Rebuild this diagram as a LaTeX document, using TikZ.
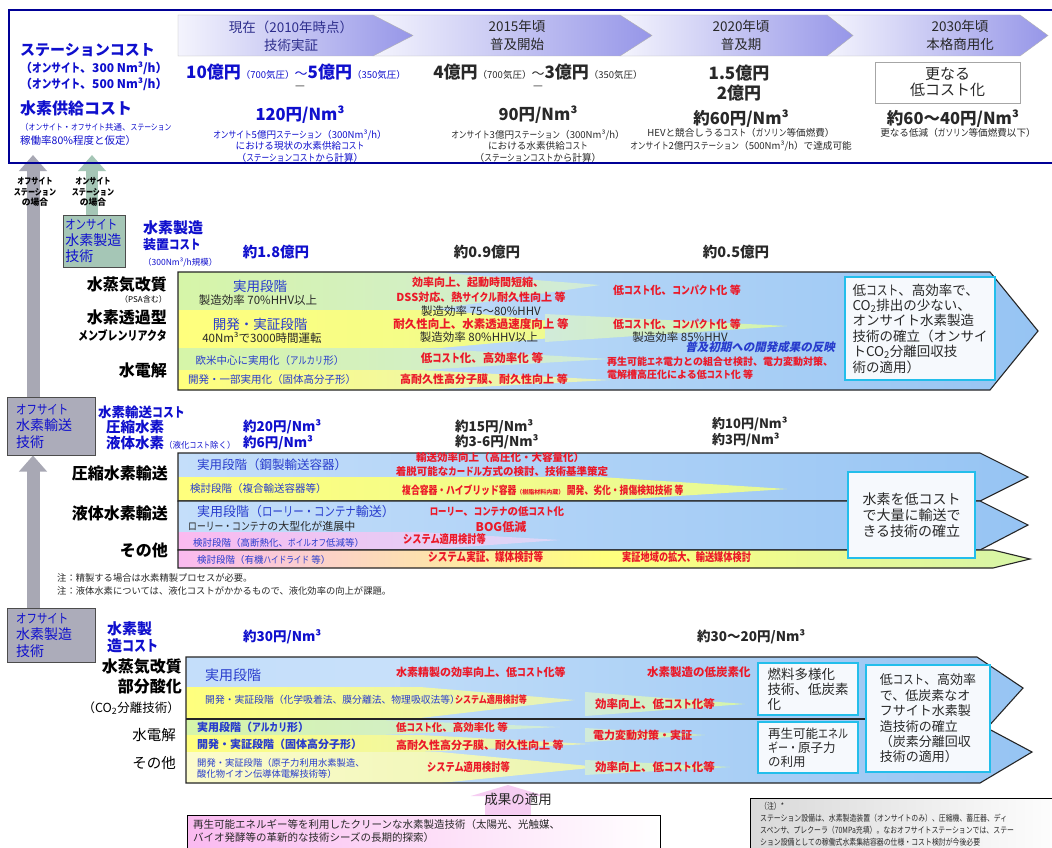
\documentclass[tikz,border=0pt]{standalone}
\usepackage{fontspec}
\setmainfont{Noto Sans CJK JP}
\newfontfamily\narrowjp{Noto Sans CJK JP}[FakeStretch=0.8]
\newfontfamily\slantjp{Noto Sans CJK JP}[FakeSlant=0.22]
\usetikzlibrary{arrows.meta}

\definecolor{navyline}{RGB}{0,0,150}
\definecolor{hdrL}{RGB}{244,244,253}
\definecolor{hdrR}{RGB}{150,150,232}
\definecolor{hblue}{RGB}{15,15,205}
\definecolor{cellblue}{RGB}{40,60,205}
\definecolor{phblue}{RGB}{45,45,140}
\definecolor{txtred}{RGB}{235,25,40}
\definecolor{darktxt}{RGB}{40,40,40}
\definecolor{bgL}{RGB}{205,228,250}
\definecolor{bgR}{RGB}{150,196,243}
\definecolor{grn}{RGB}{214,245,168}
\definecolor{ylw}{RGB}{255,255,125}
\definecolor{pale}{RGB}{252,252,205}
\definecolor{lbl}{RGB}{196,222,250}
\definecolor{pnk}{RGB}{250,186,240}
\definecolor{arrpink}{RGB}{246,205,242}
\definecolor{goalline}{RGB}{35,190,235}
\definecolor{goalfill}{RGB}{246,249,253}
\definecolor{arrgray}{RGB}{168,168,180}
\definecolor{arrgreen}{RGB}{165,198,182}
\definecolor{offfill}{RGB}{172,172,186}

\newcommand{\fsz}[2]{\fontsize{#1}{#2}\selectfont}
\newcommand{\hank}[1]{{\narrowjp #1}}

\tikzset{
  txt/.style={inner sep=0pt},
  redtxt/.style={inner sep=0pt, text=txtred},
  celltxt/.style={inner sep=0pt, text=cellblue},
  goalbox/.style={draw=goalline, line width=2.6pt, fill=goalfill, inner sep=0pt, align=left, text=darktxt},
  bandline/.style={draw=black!85, line width=1.1pt},
  sidebox/.style={draw=gray!60!black, line width=0.5pt, inner ysep=0pt, align=left, text=hblue, anchor=north west},
  upbar/.style={line width=13pt, -{Triangle[width=27pt,length=16pt]}},
}

\begin{document}
\begin{tikzpicture}[x=1pt,y=-1pt]
\useasboundingbox (0,0) rectangle (1052,848);
\clip (0,0) rectangle (1052,848);
\fill[white] (0,0) rectangle (1052,848);

% time line
\foreach \xs/\xp/\xt in {827/1020/1048,620/827/853,373/620/652,178/373/413}
  \draw[gray!60, left color=hdrL, right color=hdrR] (\xs,15) -- (\xp,15) -- (\xt,35.5) -- (\xp,56) -- (\xs,56) -- cycle;
\node[txt, align=center, text=phblue, font=\fsz{13.5}{18}] (ph2010) at (291,36) {現在（2010年時点）\\技術実証};
\node[txt, align=center, text=darktxt, font=\fsz{13.5}{18}] (ph2015) at (517,35) {2015年頃\\普及開始};
\node[txt, align=center, text=darktxt, font=\fsz{13.5}{18}] (ph2020) at (741,35) {2020年頃\\普及期};
\node[txt, align=center, text=darktxt, font=\fsz{13.5}{18}] (ph2030) at (960,35) {2030年頃\\本格商用化};

\node[txt, anchor=west, text=hblue, font=\bfseries\fsz{15}{17}] (stcost) at (20,50) {ステーションコスト};
\node[txt, anchor=west, text=hblue, font=\bfseries\fsz{12}{14}] (stc300) at (20,68) {（\hank{オンサイト}、300 Nm³/h）};
\node[txt, anchor=west, text=hblue, font=\bfseries\fsz{12}{14}] (stc500) at (20,84) {（\hank{オンサイト}、500 Nm³/h）};
\node[txt, anchor=west, text=hblue, font=\bfseries\fsz{16}{18}] (h2cost) at (20,108) {水素供給コスト};
\node[txt, anchor=west, text=hblue, font=\fsz{8.5}{10}] (h2note1) at (20,127) {（\hank{オンサイト}・\hank{オフサイト}共通、\hank{ステーション}};
\node[txt, anchor=west, text=hblue, font=\fsz{10.5}{12}] (h2note2) at (20,141) {稼働率80\%程度と仮定）};

\node[txt, text=hblue] (sc2010) at (296,72) {\bfseries\fsz{17}{19}10億円\mdseries\fsz{9.5}{11}（700気圧）\fsz{13}{15}～\bfseries\fsz{17}{19}5億円\mdseries\fsz{9.5}{11}（350気圧）};
\node[txt, text=darktxt] (sc2015) at (538,72) {\bfseries\fsz{17}{19}4億円\mdseries\fsz{9.5}{11}（700気圧）\fsz{13}{15}～\bfseries\fsz{17}{19}3億円\mdseries\fsz{9.5}{11}（350気圧）};
\node[txt, text=darktxt, font=\fsz{11}{12}] (dash2010) at (300,88) {—};
\node[txt, text=darktxt, font=\fsz{11}{12}] (dash2015) at (538,88) {—};
\node[txt, align=center, text=darktxt, font=\bfseries\fsz{17}{20}] (sc2020) at (739,83) {1.5億円\\2億円};
\node[draw=gray!70, minimum width=145pt, minimum height=41pt, align=center, text=darktxt, font=\fsz{15}{16}] (sc2030) at (947.5,82.5) {更なる\\低コスト化};

\node[txt, text=hblue, font=\bfseries\fsz{16.5}{18}] (sp2010) at (300,115) {120円/Nm³};
\node[txt, align=center, text=hblue, font=\fsz{9.6}{11.5}] (sp2010n) at (300,146) {\hank{オンサイト}5億円\hank{ステーション}（300Nm³/h）\\における現状の水素供給\hank{コスト}\\（\hank{ステーションコスト}から計算）};
\node[txt, text=darktxt, font=\bfseries\fsz{16.5}{18}] (sp2015) at (538,115) {90円/Nm³};
\node[txt, align=center, text=darktxt, font=\fsz{9.6}{11.5}] (sp2015n) at (538,146) {\hank{オンサイト}3億円\hank{ステーション}（300Nm³/h）\\における水素供給\hank{コスト}\\（\hank{ステーションコスト}から計算）};
\node[txt, text=darktxt, font=\bfseries\fsz{16.5}{18}] (sp2020) at (741,119) {約60円/Nm³};
\node[txt, align=center, text=darktxt, font=\fsz{9.6}{12.5}] (sp2020n) at (741,140) {HEVと競合しうる\hank{コスト}（\hank{ガソリン}等価燃費）\\\hank{オンサイト}2億円\hank{ステーション}（500Nm³/h）で達成可能};
\node[txt, text=darktxt, font=\bfseries\fsz{16.5}{18}] (sp2030) at (953,119) {約60～40円/Nm³};
\node[txt, text=darktxt, font=\fsz{9.6}{11.5}] (sp2030n) at (958,133) {更なる低減（\hank{ガソリン}等価燃費以下）};

% onsite production band
\shade[left color=bgL, right color=bgR] (178,272) -- (990,272) -- (1038,331) -- (990,390) -- (178,390) -- cycle;
\shade[left color=grn, right color=grn!40!bgL] (178,272) -- (430,272) -- (600,285) -- (430,310) -- (178,310) -- cycle;
\shade[left color=ylw, right color=ylw!50!grn] (178,310) -- (440,310) -- (640,330) -- (440,348) -- (178,348) -- cycle;
\shade[left color=grn!40!bgL, right color=grn] (545,314) -- (787,326) -- (545,342) -- cycle;
\shade[left color=grn, right color=grn!40!bgL] (178,348) -- (420,348) -- (610,359) -- (420,370) -- (178,370) -- cycle;
\shade[left color=ylw, right color=ylw!50!bgL] (178,370) -- (420,370) -- (610,380) -- (420,390) -- (178,390) -- cycle;
\draw[bandline] (178,272) -- (990,272) -- (1038,331) -- (990,390) -- (178,390) -- cycle;

\node[txt, anchor=west, text=hblue, font=\bfseries\fsz{15}{16}] (eqc1) at (143,228) {水素製造};
\node[txt, anchor=west, text=hblue, font=\bfseries\fsz{13}{16}] (eqc2) at (143,245) {装置\hank{コスト}};
\node[txt, anchor=west, text=hblue, font=\fsz{8.5}{10}] (eqc3) at (143,262) {（300Nm³/h規模）};
\node[txt, text=hblue, font=\bfseries\fsz{14.5}{16}] (ec2010) at (276,252) {約1.8億円};
\node[txt, text=darktxt, font=\bfseries\fsz{14.5}{16}] (ec2015) at (487,252) {約0.9億円};
\node[txt, text=darktxt, font=\bfseries\fsz{14.5}{16}] (ec2020) at (736,252) {約0.5億円};

\node[txt, anchor=east, font=\bfseries\fsz{16}{18}] (lsr) at (167,285) {水蒸気改質};
\node[txt, anchor=east, font=\fsz{8}{10}] (lpsa) at (167,299) {（PSA含む）};
\node[txt, anchor=east, font=\bfseries\fsz{16}{18}] (lmem1) at (167,317) {水素透過型};
\node[txt, anchor=east, font=\bfseries\fsz{12.5}{14}] (lmem2) at (167,336) {\hank{メンブレンリアクタ}};
\node[txt, anchor=east, font=\bfseries\fsz{16}{18}] (lel) at (167,370) {水電解};

\node[celltxt, font=\fsz{13.5}{15}] (c1a) at (260,286) {実用段階};
\node[txt, text=darktxt, font=\fsz{11.5}{13}] (c1b) at (258,300) {製造効率 70\%HHV以上};
\node[celltxt, font=\fsz{13.5}{15}] (c2a) at (260,324) {開発・実証段階};
\node[txt, text=darktxt, font=\fsz{11.5}{13}] (c2b) at (262,338) {40Nm³で3000時間運転};
\node[celltxt, font=\fsz{10.5}{12}] (c3) at (270,361) {欧米中心に実用化（\hank{アルカリ}形）};
\node[celltxt, font=\fsz{10.5}{12}] (c4) at (272,380) {開発・一部実用化（固体高分子形）};

\node[redtxt, font=\bfseries\fsz{11}{13}] (r11) at (478,282) {効率向上、起動時間短縮、};
\node[redtxt, font=\bfseries\fsz{11}{13}] (r12) at (481,297) {DSS対応、熱\hank{サイクル}耐久性向上 等};
\node[txt, text=darktxt, font=\fsz{11.5}{13}] (r13) at (481,311) {製造効率 75～80\%HHV};
\node[redtxt, font=\bfseries\fsz{11.5}{13}] (r21) at (481,324) {耐久性向上、水素透過速度向上 等};
\node[txt, text=darktxt, font=\fsz{11.5}{13}] (r22) at (479,337) {製造効率 80\%HHV以上};
\node[redtxt, font=\bfseries\fsz{11.5}{13}] (r31) at (482,358) {低\hank{コスト}化、高効率化 等};
\node[redtxt, font=\bfseries\fsz{11}{13}] (r41) at (484,379) {高耐久性高分子膜、耐久性向上 等};
\node[redtxt, font=\bfseries\fsz{11}{13}] (r1r) at (677,290) {低\hank{コスト}化、\hank{コンパクト}化 等};
\node[redtxt, font=\bfseries\fsz{11}{13}] (r2r) at (677,324) {低\hank{コスト}化、\hank{コンパクト}化 等};
\node[txt, text=darktxt, font=\fsz{11.5}{13}] (r2e) at (680,337) {製造効率 85\%HHV};
\node[txt, text=cellblue, font=\slantjp\bfseries\fsz{11.5}{13}] (r2b) at (760,347) {普及初期への開発成果の反映};
\node[redtxt, anchor=west, align=left, font=\bfseries\fsz{10}{13}] (r34) at (607,368.5) {再生可能\hank{エネ}電力との組合せ検討、電力変動対策、\\電解槽高圧化による低\hank{コスト}化 等};

\node[goalbox, minimum width=150pt, minimum height=103pt, font=\fsz{13.5}{15.4}] (goal1) at (920,328.5) {低\hank{コスト}、高効率で、\\CO\textsubscript{2}排出の少ない、\\オンサイト水素製造\\技術の確立（オンサイ\\トCO\textsubscript{2}分離回収技\\術の適用）};

% offsite transport bands
\shade[left color=lbl, right color=bgR] (178,453) -- (980,453) -- (1028,477) -- (980,501) -- (178,501) -- cycle;
\shade[left color=ylw, right color=ylw!40!grn] (178,477) -- (600,477) -- (787,489) -- (600,501) -- (178,501) -- cycle;
\draw[bandline] (178,453) -- (980,453) -- (1028,477) -- (980,501) -- (178,501) -- cycle;
\shade[left color=lbl, right color=bgR] (178,501) -- (980,501) -- (1028,525) -- (980,550) -- (178,550) -- cycle;
\shade[left color=pnk, right color=pnk!30!bgL] (178,532) -- (420,532) -- (560,540) -- (420,550) -- (178,550) -- cycle;
\draw[bandline] (178,501) -- (980,501) -- (1028,525) -- (980,550) -- (178,550) -- cycle;
\shade[left color=pnk, right color=grn, middle color=ylw] (178,550) -- (993,550) -- (1030,559) -- (993,568) -- (178,568) -- cycle;
\draw[bandline] (178,550) -- (993,550) -- (1030,559) -- (993,568) -- (178,568) -- cycle;

\node[txt, anchor=west, text=hblue, font=\bfseries\fsz{13.5}{15}] (tc) at (98,412) {水素輸送\hank{コスト}};
\node[txt, anchor=west, text=hblue, font=\bfseries\fsz{14.5}{16}] (tcc) at (106,427) {圧縮水素};
\node[txt, anchor=west, text=hblue, font=\bfseries\fsz{14.5}{16}] (tcl) at (106,443) {液体水素{\mdseries\fsz{8.5}{10}（液化\hank{コスト}除く）}};
\node[txt, anchor=west, text=hblue, font=\bfseries\fsz{13.5}{15}] (tc20) at (243,427) {約20円/Nm³};
\node[txt, anchor=west, text=hblue, font=\bfseries\fsz{13.5}{15}] (tc6) at (243,443) {約6円/Nm³};
\node[txt, anchor=west, text=darktxt, font=\bfseries\fsz{13.5}{15}] (tc15) at (455,427) {約15円/Nm³};
\node[txt, anchor=west, text=darktxt, font=\bfseries\fsz{13.5}{15}] (tc36) at (455,442) {約3-6円/Nm³};
\node[txt, anchor=west, text=darktxt, font=\bfseries\fsz{13}{15}] (tc10) at (712,424) {約10円/Nm³};
\node[txt, anchor=west, text=darktxt, font=\bfseries\fsz{13}{15}] (tc3) at (712,440) {約3円/Nm³};

\node[txt, anchor=east, font=\bfseries\fsz{16}{18}] (lcomp) at (168,473) {圧縮水素輸送};
\node[txt, anchor=east, font=\bfseries\fsz{16}{18}] (lliq) at (168,513) {液体水素輸送};
\node[txt, anchor=east, font=\bfseries\fsz{16}{18}] (loth) at (168,550) {その他};

\node[celltxt, anchor=west, font=\fsz{12.5}{14}] (ca1) at (197,465) {実用段階（鋼製輸送容器）};
\node[celltxt, anchor=west, font=\fsz{10.5}{12}] (ca2) at (190,489) {検討段階（複合輸送容器等）};
\node[celltxt, anchor=west, font=\fsz{13}{14}] (cb1) at (197,512) {実用段階（\hank{ローリー・コンテナ}輸送）};
\node[txt, anchor=west, text=darktxt, font=\fsz{11}{13}] (cb2) at (188,526) {\hank{ローリー・コンテナ}の大型化が進展中};
\node[celltxt, anchor=west, font=\fsz{9.5}{11}] (cb3) at (193,543) {検討段階（高断熱化、\hank{ボイルオフ}低減等）};
\node[celltxt, anchor=west, font=\fsz{9.5}{11}] (cc1) at (197,560) {検討段階（有機\hank{ハイドライド} 等）};

\node[redtxt, font=\bfseries\fsz{10.5}{12}] (ra1) at (500,458) {輸送効率向上（高圧化・大容量化）};
\node[redtxt, font=\bfseries\fsz{10.5}{12}] (ra2) at (502,472) {着脱可能な\hank{カードル}方式の検討、技術基準策定};
\node[redtxt, anchor=west, font=\bfseries\fsz{11}{12}] (ra3) at (402,490) {\hank{複合容器・ハイブリッド容器}{\fsz{6}{7}（樹脂材料内蔵）} \hank{開発、劣化・損傷検知技術 等}};
\node[redtxt, font=\bfseries\fsz{10.5}{12}] (rb1) at (497,512) {\hank{ローリー}、\hank{コンテナ}の低\hank{コスト}化};
\node[redtxt, font=\bfseries\fsz{12}{13}] (rb2) at (501,527) {BOG低減};
\node[redtxt, anchor=west, font=\bfseries\fsz{11.5}{12}] (rb3) at (403,539) {\hank{システム適用検討等}};
\node[redtxt, anchor=west, font=\bfseries\fsz{12}{13}] (rc1) at (428,557) {\hank{システム実証、媒体検討等}};
\node[redtxt, anchor=west, font=\bfseries\fsz{11.5}{12}] (rc2) at (622,557) {\hank{実証地域の拡大、輸送媒体検討}};

\node[goalbox, minimum width=127pt, minimum height=86pt, font=\fsz{14}{16}] (goal2) at (911.5,515) {水素を低コスト\\で大量に輸送で\\きる技術の確立};

\node[txt, anchor=west, text=darktxt, font=\fsz{9.3}{11}] (nt1) at (57,578) {注：精製する場合は水素精製プロセスが必要。};
\node[txt, anchor=west, text=darktxt, font=\fsz{9.3}{11}] (nt2) at (57,591) {注：液体水素については、液化コストがかかるもので、液化効率の向上が課題。};

% offsite production band
\shade[left color=bgL, right color=bgR] (186,657) -- (977,657) -- (1023,688) -- (987,728) -- (1032,752) -- (980,783) -- (186,783) -- cycle;
\shade[left color=lbl, right color=lbl!60!bgL] (186,657) rectangle (400,687);
\shade[left color=ylw, right color=ylw!50!bgL] (186,687) -- (420,687) -- (575,700) -- (420,718) -- (186,718) -- cycle;
\shade[left color=grn!40!bgL, right color=grn] (585,692) -- (745,704) -- (585,716) -- cycle;
\shade[left color=grn, right color=grn!40!bgL] (186,720) -- (380,720) -- (560,727) -- (380,735) -- (186,735) -- cycle;
\shade[left color=ylw, right color=ylw!50!bgL] (186,735) -- (420,735) -- (590,744) -- (420,752) -- (186,752) -- cycle;
\shade[left color=grn!40!bgL, right color=grn] (585,728) -- (705,735) -- (585,742) -- cycle;
\shade[left color=pale, right color=ylw!60!bgL] (186,752) -- (440,752) -- (600,767) -- (440,783) -- (186,783) -- cycle;
\shade[left color=grn!40!bgL, right color=grn] (585,760) -- (730,767) -- (585,775) -- cycle;
\draw[bandline] (186,657) -- (977,657) -- (1023,688) -- (987,728) -- (1032,752) -- (980,783) -- (186,783) -- cycle;
\draw[bandline] (186,719) -- (866,719);

\node[txt, anchor=west, text=hblue, font=\bfseries\fsz{15}{17}] (pc1) at (107,629) {水素製};
\node[txt, anchor=west, text=hblue, font=\bfseries\fsz{15}{17}] (pc2) at (107,646) {造\hank{コスト}};
\node[txt, anchor=west, text=hblue, font=\bfseries\fsz{13.5}{15}] (pc30) at (243,637) {約30円/Nm³};
\node[txt, anchor=west, text=darktxt, font=\bfseries\fsz{13.5}{15}] (pc3020) at (697,637) {約30～20円/Nm³};

\node[txt, anchor=east, font=\bfseries\fsz{16}{18}] (lsr2) at (182,667) {水蒸気改質};
\node[txt, anchor=east, font=\bfseries\fsz{16}{18}] (lpo) at (182,686) {部分酸化};
\node[txt, anchor=east, font=\fsz{12.5}{14}] (lco2) at (180,708) {（CO\textsubscript{2}分離技術）};
\node[txt, anchor=east, font=\fsz{14.5}{16}] (lel2) at (176,735) {水電解};
\node[txt, anchor=east, font=\fsz{14.5}{16}] (loth2) at (176,763) {その他};

\node[celltxt, anchor=west, font=\fsz{14}{15}] (pa) at (205,675) {実用段階};
\node[celltxt, anchor=west, font=\fsz{9.8}{11}] (pb) at (205,700) {開発・実証段階（化学吸着法、膜分離法、物理吸収法等）};
\node[redtxt, anchor=west, font=\bfseries\fsz{10}{11}] (pbr) at (455,700) {\hank{システム適用検討等}};
\node[celltxt, anchor=west, font=\bfseries\fsz{11}{12}] (pcc) at (197,727) {実用段階（\hank{アルカリ}形）};
\node[celltxt, anchor=west, font=\bfseries\fsz{11}{12}] (pd) at (197,744) {開発・実証段階（固体高分子形）};
\node[celltxt, anchor=west, align=left, font=\fsz{9.3}{11}] (pe) at (197,768) {開発・実証段階（原子力利用水素製造、\\酸化物イオン伝導体電解技術等）};

\node[redtxt, anchor=west, font=\bfseries\fsz{11}{12}] (ra) at (396,672) {水素精製の効率向上、低\hank{コスト}化等};
\node[redtxt, anchor=west, font=\bfseries\fsz{11.5}{12}] (rar) at (647,672) {水素製造の低炭素化};
\node[redtxt, anchor=west, font=\bfseries\fsz{11.5}{12}] (rb) at (595,704) {効率向上、低\hank{コスト}化等};
\node[redtxt, anchor=west, font=\bfseries\fsz{10.5}{12}] (rc) at (396,727) {低\hank{コスト}化、高効率化 等};
\node[redtxt, anchor=west, font=\bfseries\fsz{11}{12}] (rd) at (396,745) {高耐久性高分子膜、耐久性向上 等};
\node[redtxt, anchor=west, font=\bfseries\fsz{11}{12}] (rdr) at (593,735) {電力変動対策・実証};
\node[redtxt, anchor=west, font=\bfseries\fsz{11.5}{12}] (re) at (427,767) {\hank{システム適用検討等}};
\node[redtxt, anchor=west, font=\bfseries\fsz{11.5}{12}] (rer) at (595,767) {効率向上、低\hank{コスト}化等};

\node[goalbox, minimum width=100pt, minimum height=52pt, font=\fsz{13.5}{15}] (gb1) at (808,689) {燃料多様化\\技術、低炭素\\化};
\node[goalbox, minimum width=100pt, minimum height=51pt, font=\fsz{12.5}{14}] (gb2) at (808,747.5) {再生可能\hank{エネル}\\\hank{ギー・}原子力\\の利用};
\node[goalbox, minimum width=124pt, minimum height=107pt, font=\fsz{13}{15.4}] (gb3) at (928,718.5) {低\hank{コスト}、高効率\\で、低炭素なオ\\フサイト水素製\\造技術の確立\\（炭素分離回収\\技術の適用）};

% seeds and note
\shade[left color=pnk, right color=white, draw=black, line width=0.8pt] (187,815) rectangle (660,870);
\node[txt, anchor=north west, align=left, text=darktxt, font=\fsz{10.5}{13}] (seeds) at (193,819) {再生可能エネルギー等を利用したクリーンな水素製造技術（太陽光、光触媒、\\バイオ発酵等の革新的な技術シーズの長期的探索）};
\coordinate (seedtop) at (508,815);
\coordinate (bandbot) at (508,785);
\draw[line width=46pt, arrpink, -{Triangle[width=74pt,length=11pt]}] (seedtop) -- (bandbot);
\node[txt, text=darktxt, font=\fsz{13.5}{15}] (apply) at (518,799) {成果の適用};

\shade[left color=gray!30, right color=white, draw=black, line width=0.8pt] (750,798) rectangle (1070,870);
\node[txt, anchor=north west, align=left, text=darktxt, font=\narrowjp\fsz{8.6}{12}] (note) at (760,802) {（注）*\\ステーション設備は、水素製造装置（オンサイトのみ）、圧縮機、蓄圧器、ディ\\スペンサ、プレクーラ（70MPa充填）。なおオフサイトステーションでは、ステー\\ション設備としての稼働式水素集結容器の仕様・コスト検討が今後必要};

% side boxes and up arrows
\node[sidebox, fill=arrgreen, minimum width=62pt, minimum height=52pt, text width=58pt, inner xsep=2pt, font=\fsz{14}{16}] (onsite) at (63,215) {{\fsz{13}{16}\hank{オンサイト}}\\水素製造\\技術};
\node[sidebox, fill=offfill, minimum width=88pt, minimum height=58pt, text width=70pt, inner xsep=9pt, font=\fsz{14}{16.5}] (offtr) at (7,397) {{\fsz{13}{16.5}\hank{オフサイト}}\\水素輸送\\技術};
\node[sidebox, fill=offfill, minimum width=88pt, minimum height=54pt, text width=70pt, inner xsep=9pt, font=\fsz{14}{16.5}] (offpr) at (7,608) {{\fsz{13}{16.5}\hank{オフサイト}}\\水素製造\\技術};
\coordinate (hdA) at (33,155);
\coordinate (hdB) at (92,155);
\draw[upbar, arrgray] (offpr.north -| hdA) -- (offtr.south -| hdA);
\draw[upbar, arrgray] (offtr.north -| hdA) -- (hdA);
\draw[upbar, arrgreen, line width=12pt] (onsite.north -| hdB) -- (hdB);
\draw[navyline, line width=2pt] (9,10) rectangle (1070,163);

\node[txt, align=center, font=\bfseries\fsz{8.8}{10.5}] (lboff) at (35,192) {\hank{オフサイト}\\\hank{ステーション}\\の場合};
\node[txt, align=center, font=\bfseries\fsz{8.8}{10.5}] (lbon) at (93,192) {\hank{オンサイト}\\\hank{ステーション}\\の場合};
\end{tikzpicture}
\end{document}
